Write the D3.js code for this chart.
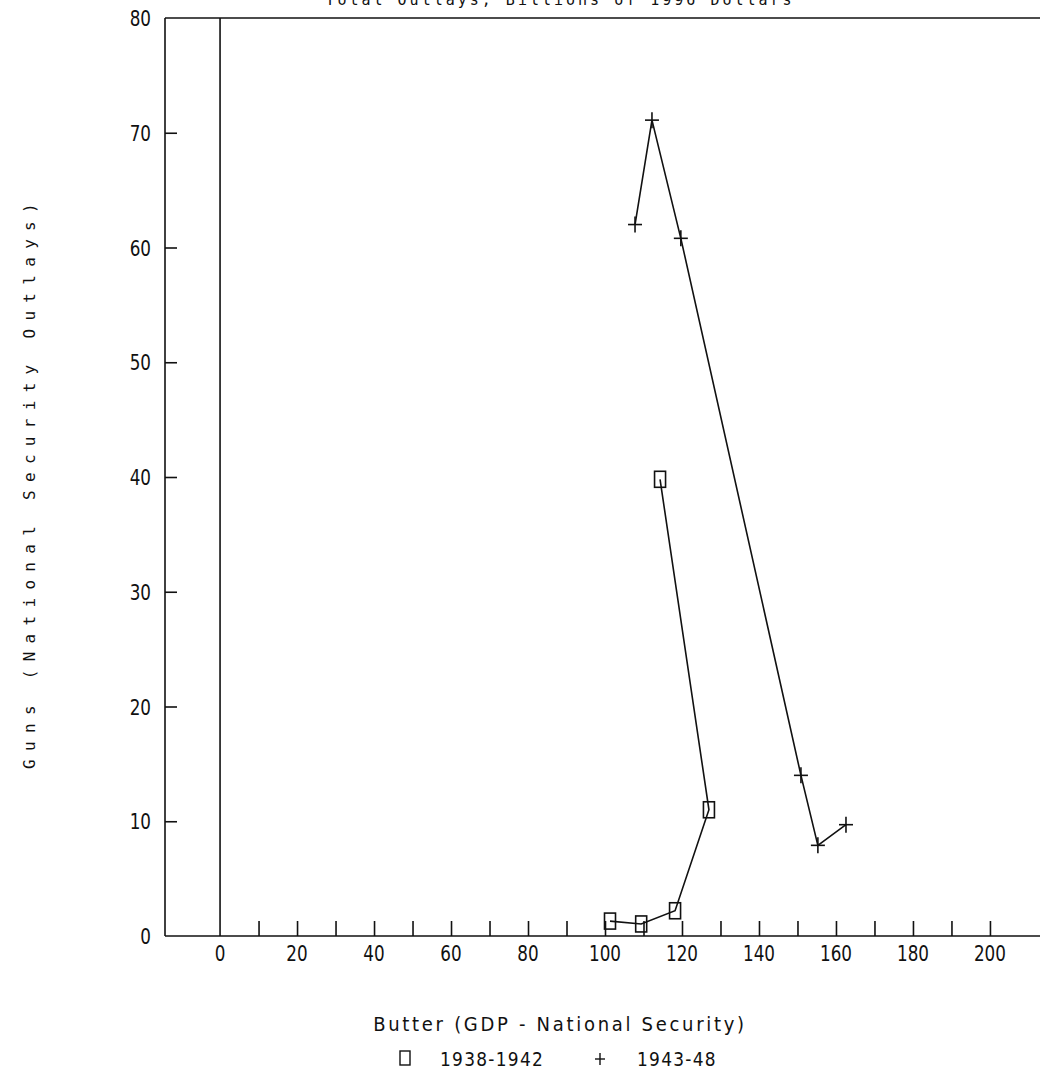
<!DOCTYPE html>
<html>
<head>
<meta charset="utf-8">
<script src="https://cdn.jsdelivr.net/npm/d3@7"></script>
<style>
  body { margin: 0; background: #fff; }
  svg { display: block; }
  text { fill: #111; }
</style>
</head>
<body>
<div id="chart"></div>
<script>
// guns vs butter, two periods
var butter3842 = [101.3, 109.4, 118.2, 127.0, 114.3];
var guns3842   = [1.3, 1.05, 2.2, 11.0, 39.8];
var butter4348 = [107.8, 112.2, 119.7, 150.9, 155.3, 162.6];
var guns4348   = [62.0, 71.1, 60.8, 14.0, 7.9, 9.7];
var xTickLabels = [0, 20, 40, 60, 80, 100, 120, 140, 160, 180, 200];
var yTickLabels = [0, 10, 20, 30, 40, 50, 60, 70, 80];
var legendLabels = ["1938-1942", "1943-48"];

var W = 1040, H = 1091;
var svg = d3.select("#chart").append("svg")
  .attr("width", W).attr("height", H);

var xScale = d3.scaleLinear().domain([-14.3, 213]).range([165, 1040]);
var yScale = d3.scaleLinear().domain([0, 80]).range([936, 18]);

var font = "'DejaVu Sans', sans-serif";
var squeeze = 0.8;

// title, cut off at top edge like the source
svg.append("text")
  .attr("x", 560).attr("y", 5)
  .attr("text-anchor", "middle")
  .style("font-family", "'DejaVu Sans Mono', monospace")
  .style("font-size", "15px")
  .style("letter-spacing", "3px")
  .text("Total Outlays, Billions of 1996 Dollars");

// frame
svg.append("line")
  .attr("x1", xScale(-14.3)).attr("x2", W)
  .attr("y1", yScale(80)).attr("y2", yScale(80))
  .attr("stroke", "#111").attr("stroke-width", 1.6);
svg.append("line")
  .attr("x1", xScale(-14.3)).attr("x2", xScale(-14.3))
  .attr("y1", yScale(80)).attr("y2", yScale(0))
  .attr("stroke", "#111").attr("stroke-width", 1.6);
// zero line
svg.append("line")
  .attr("x1", xScale(0)).attr("x2", xScale(0))
  .attr("y1", yScale(80)).attr("y2", yScale(0))
  .attr("stroke", "#111").attr("stroke-width", 1.6);

// x axis, ticks pointing up
var xAxis = d3.axisBottom(xScale)
  .tickValues(d3.range(10, 201, 10))
  .tickSizeInner(-15).tickSizeOuter(0)
  .tickFormat("");
var gx = svg.append("g")
  .attr("transform", "translate(0," + yScale(0) + ")")
  .call(xAxis);
gx.select(".domain").attr("d", "M" + xScale(-14.3) + ",0H" + W)
  .attr("stroke", "#111").attr("stroke-width", 1.6);
gx.selectAll(".tick line").attr("stroke", "#111").attr("stroke-width", 1.6);

svg.append("g").selectAll("text")
  .data(xTickLabels).enter().append("text")
  .attr("transform", function(d) { return "translate(" + xScale(d) + ",961) scale(" + squeeze + ",1)"; })
  .attr("text-anchor", "middle")
  .style("font-family", font)
  .style("font-size", "21px")
  .text(function(d) { return d; });

// y axis, ticks pointing in
var yAxis = d3.axisRight(yScale)
  .tickValues(d3.range(10, 71, 10))
  .tickSizeInner(12).tickSizeOuter(0)
  .tickFormat("");
var gy = svg.append("g")
  .attr("transform", "translate(" + xScale(-14.3) + ",0)")
  .call(yAxis);
gy.select(".domain").remove();
gy.selectAll(".tick line").attr("stroke", "#111").attr("stroke-width", 1.6);

svg.append("g").selectAll("text")
  .data(yTickLabels).enter().append("text")
  .attr("transform", function(d) { return "translate(151," + (yScale(d) + 8) + ") scale(" + squeeze + ",1)"; })
  .attr("text-anchor", "end")
  .style("font-family", font)
  .style("font-size", "21px")
  .text(function(d) { return d; });

// axis titles
svg.append("text")
  .attr("transform", "translate(560,1031) scale(0.9,1)")
  .attr("text-anchor", "middle")
  .style("font-family", font)
  .style("font-size", "20px")
  .style("letter-spacing", "3px")
  .text("Butter (GDP - National Security)");

svg.append("text")
  .attr("transform", "translate(35,482)rotate(-90)")
  .attr("text-anchor", "middle")
  .style("font-family", "'DejaVu Sans Mono', monospace")
  .style("font-size", "16px")
  .style("letter-spacing", "8.3px")
  .text("Guns (National Security Outlays)");

// lines
var line = d3.line()
  .x(function(d) { return xScale(d[0]); })
  .y(function(d) { return yScale(d[1]); });

var pts1 = d3.zip(butter3842, guns3842);
var pts2 = d3.zip(butter4348, guns4348);

svg.append("path").datum(pts1)
  .attr("d", line).attr("fill", "none")
  .attr("stroke", "#111").attr("stroke-width", 1.6);
svg.append("path").datum(pts2)
  .attr("d", line).attr("fill", "none")
  .attr("stroke", "#111").attr("stroke-width", 1.6);

// square markers
svg.append("g").selectAll("rect")
  .data(pts1).enter().append("rect")
  .attr("x", function(d) { return xScale(d[0]) - 5.5; })
  .attr("y", function(d) { return yScale(d[1]) - 8; })
  .attr("width", 11).attr("height", 16)
  .attr("fill", "none").attr("stroke", "#111").attr("stroke-width", 1.6);

// plus markers
var plus = svg.append("g").selectAll("g")
  .data(pts2).enter().append("g")
  .attr("transform", function(d) { return "translate(" + xScale(d[0]) + "," + yScale(d[1]) + ")"; });
plus.append("line").attr("x1", -7).attr("x2", 7).attr("y1", 0).attr("y2", 0)
  .attr("stroke", "#111").attr("stroke-width", 1.6);
plus.append("line").attr("x1", 0).attr("x2", 0).attr("y1", -8).attr("y2", 8)
  .attr("stroke", "#111").attr("stroke-width", 1.6);

// legend
var lg = svg.append("g");
lg.append("rect")
  .attr("x", 400).attr("y", 1051).attr("width", 10).attr("height", 14)
  .attr("fill", "none").attr("stroke", "#111").attr("stroke-width", 1.4);
lg.append("text")
  .attr("transform", "translate(440,1066) scale(0.85,1)")
  .style("font-family", font).style("font-size", "20px")
  .style("letter-spacing", "1.5px")
  .text(legendLabels[0]);
lg.append("line").attr("x1", 595).attr("x2", 605).attr("y1", 1059).attr("y2", 1059)
  .attr("stroke", "#111").attr("stroke-width", 1.4);
lg.append("line").attr("x1", 600).attr("x2", 600).attr("y1", 1053).attr("y2", 1065)
  .attr("stroke", "#111").attr("stroke-width", 1.4);
lg.append("text")
  .attr("transform", "translate(637,1066) scale(0.85,1)")
  .style("font-family", font).style("font-size", "20px")
  .style("letter-spacing", "1.5px")
  .text(legendLabels[1]);
</script>
</body>
</html>
